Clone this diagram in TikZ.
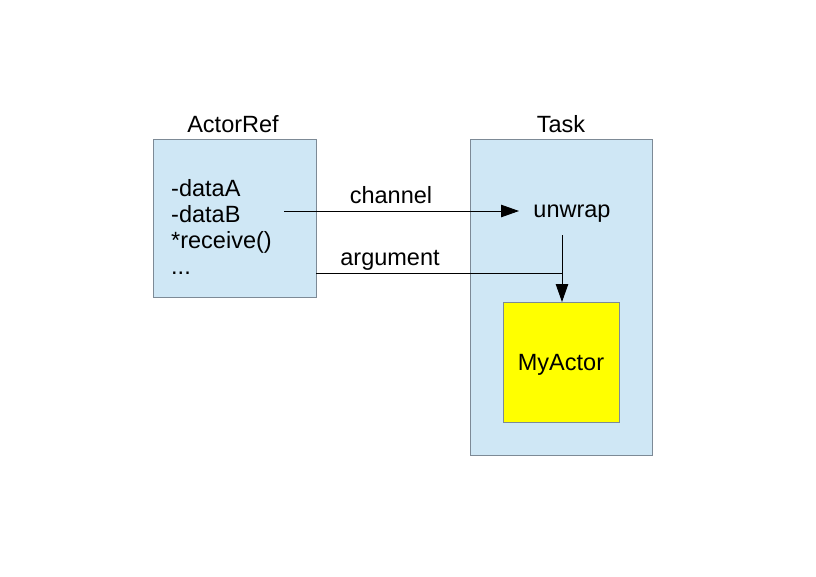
\documentclass[tikz,border=0pt]{standalone}
\usepackage{fontspec}
\setmainfont{Liberation Sans}
\usetikzlibrary{arrows.meta}
\definecolor{boxblue}{RGB}{207,231,245}
\definecolor{boxborder}{RGB}{125,138,150}
\definecolor{actoryellow}{RGB}{255,255,0}
\tikzset{
  container/.style={draw=boxborder, fill=boxblue, line width=0.8pt, inner sep=0pt},
  actorbox/.style={draw=boxborder, fill=actoryellow, line width=0.8pt, inner sep=0pt},
  lbl/.style={font=\fontsize{23.5}{28}\selectfont, inner sep=0pt},
  conn/.style={line width=0.9pt, draw=black},
  tip/.style={-{Triangle[length=18pt,width=12.5pt]}}
}
\begin{document}
\begin{tikzpicture}[x=1pt,y=-1pt]
\useasboundingbox (0,0) rectangle (816,576);
\fill[white] (0,0) rectangle (816,576);
% boxes
\node[container, minimum width=163pt, minimum height=158pt] (actorref) at (234.5,218) {};
\node[container, minimum width=182pt, minimum height=316pt] (task) at (561,297) {};
\node[actorbox, minimum width=116pt, minimum height=120pt] (myactor) at (561,362) {};
% titles
\node[lbl] (actorreftitle) at (233,124) {ActorRef};
\node[lbl] (tasktitle) at (561,124) {Task};
\node[lbl] (myactorlbl) at (561,365) {MyActor};
% list
\node[lbl, anchor=base west, align=left, font=\fontsize{23.5}{26}\selectfont] (fields) at (171,274) {-dataA\\-dataB\\*receive()\\...};
% unwrap
\node[lbl] (unwrap) at (572,214) {unwrap};
% connector labels
\node[lbl] (chlbl) at (391,195) {channel};
\node[lbl] (arglbl) at (390,260) {argument};
% coordinates
\coordinate (chstart) at (284,211);
\coordinate (chend) at (519,211);
\coordinate (argstart) at (316,273);
\coordinate (junction) at (562,273);
\coordinate (uw) at (562,235);
\coordinate (myin) at (562,302);
% connectors
\draw[conn, tip] (chstart) -- (chend);
\draw[conn] (argstart) -- (junction);
\draw[conn, tip] (uw) -- (myin);
\end{tikzpicture}
\end{document}
